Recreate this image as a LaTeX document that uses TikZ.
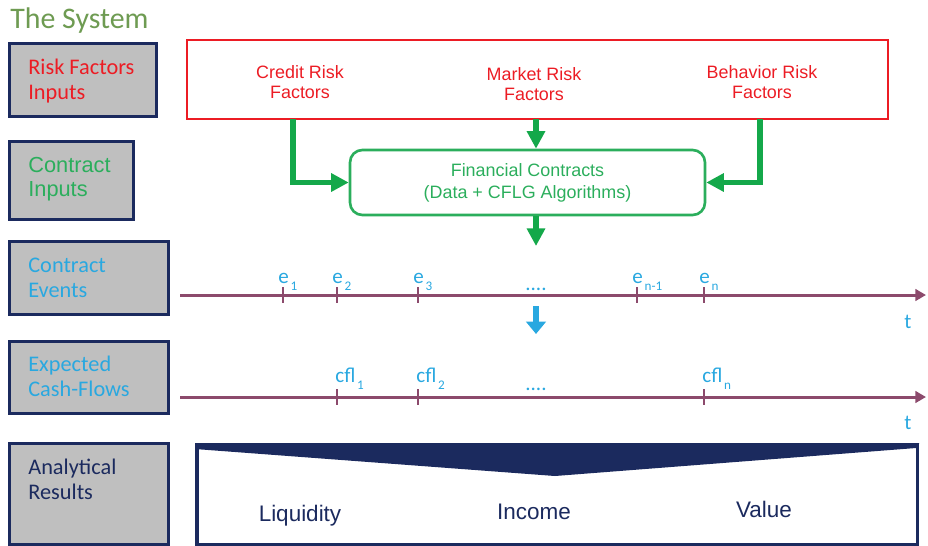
\documentclass[tikz,border=0pt]{standalone}
\usepackage{fontspec}
\setmainfont{Carlito}
\newfontfamily\arialfont{Liberation Sans}
\usetikzlibrary{arrows.meta,positioning}
\definecolor{sysNavy}{HTML}{1B2A5E}
\definecolor{sysGray}{HTML}{BFBFBF}
\definecolor{sysRed}{HTML}{EC1C24}
\definecolor{sysGreen}{HTML}{14A84A}
\definecolor{sysLeaf}{HTML}{2BAE5C}
\definecolor{sysSky}{HTML}{29A8E0}
\definecolor{sysPlum}{HTML}{8C4A6C}
\definecolor{sysOlive}{HTML}{6E9B52}
\tikzset{
 sysdiag/.style={x=0.02cm,y=-0.02cm,line join=miter},
 sidebox/.style={draw=sysNavy,fill=sysGray,line width=1.9pt,anchor=north west,inner sep=0pt},
 sidetext/.style={font=\fontsize{12.7}{14.2}\selectfont,align=left,anchor=north west,inner sep=0pt},
 riskbox/.style={draw=sysRed,line width=1.5pt,inner sep=0pt,minimum width=14.02cm,minimum height=1.58cm},
 risktext/.style={font=\arialfont\fontsize{10.2}{11.3}\selectfont,text=sysRed,align=center,anchor=north,inner sep=0pt},
 contractbox/.style={draw=sysLeaf,line width=1.5pt,rounded corners=7pt,minimum width=7.1cm,minimum height=1.3cm,
   text=sysLeaf,font=\arialfont\fontsize{10.2}{12.4}\selectfont,align=center},
 feed/.style={draw=sysGreen,line width=3.4pt,-{Triangle[length=10pt,width=10pt]}},
 derive/.style={draw=sysSky,line width=3.4pt,-{Triangle[length=7pt,width=11pt]}},
 timeline/.style={draw=sysPlum,line width=1.7pt,-{Triangle[length=6pt,width=6.5pt]}},
 evtick/.style={draw=sysPlum,line width=1.2pt},
 evlabel/.style={font=\fontsize{12}{14}\selectfont,text=sysSky,anchor=base west,inner sep=0pt},
 resultbox/.style={draw=sysNavy,line width=2pt,anchor=north west,inner sep=0pt,minimum width=14.42cm,minimum height=2cm},
 resulttext/.style={font=\arialfont\fontsize{12.8}{14}\selectfont,text=sysNavy,anchor=base,inner sep=0pt}
}
\newcommand{\tickLab}[2]{#1\kern1pt\raisebox{-4.5pt}{\fontsize{7.5}{8}\selectfont#2}}

\begin{document}
\begin{tikzpicture}[sysdiag]
 \useasboundingbox (0,0) rectangle (928,545);
 \node[font=\fontsize{17}{20}\selectfont,text=sysOlive,anchor=base west,inner sep=0pt] (title) at (10,28) {The System};
 % row labels on the left
 \node[sidebox,minimum width=2.94cm,minimum height=1.46cm] (sRisk) at (8,42) {};
 \node[sidebox,minimum width=2.48cm,minimum height=1.56cm] (sContract) at (8,140) {};
 \node[sidebox,minimum width=3.18cm,minimum height=1.46cm] (sEvents) at (8,240) {};
 \node[sidebox,minimum width=3.18cm,minimum height=1.44cm] (sFlows) at (8,340) {};
 \node[sidebox,minimum width=3.18cm,minimum height=2.02cm] (sResults) at (8,442) {};
 \node[sidetext,text=sysRed] (tRisk) at (28,59) {Risk Factors\\Inputs};
 \node[sidetext,text=sysLeaf,font=\arialfont\fontsize{12.4}{13.6}\selectfont] (tContract) at (28,157) {Contract\\Inputs};
 \node[sidetext,text=sysSky] (tEvents) at (28,258) {Contract\\Events};
 \node[sidetext,text=sysSky] (tFlows) at (28,356) {Expected\\Cash-Flows};
 \node[sidetext,text=sysNavy] (tResults) at (28,459) {Analytical\\Results};
 % risk factors and contracts
 \node[riskbox] (rf) at (537.5,79.5) {};
 \node[risktext] (credit) at (300,65) {Credit Risk\\Factors};
 \node[risktext] (market) at (534,67) {Market Risk\\Factors};
 \node[risktext] (behav) at (762,65) {Behavior Risk\\Factors};
 \node[contractbox] (fc) at (527.5,182.5) {Financial Contracts\\(Data + CFLG Algorithms)};
 \coordinate (cIn) at (293,119);
 \coordinate (mIn) at (536,119);
 \coordinate (bIn) at (760,119);
 \coordinate (fcOut) at (536,246);
 \draw[feed] (cIn) |- (fc.west);
 \draw[feed] (bIn) |- (fc.east);
 \draw[feed] (mIn) -- (mIn |- fc.north);
 \draw[feed] (fcOut |- fc.south) -- (fcOut);
 % contract events
 \coordinate (evStart) at (180,295); \coordinate (evEnd) at (926,295);
 \draw[timeline] (evStart) -- (evEnd);
 \foreach \xx/\ss [count=\i] in {283/1,337/2,418/3,637/n-1,704/n}{
   \draw[evtick] (\xx,287) -- (\xx,303);
   \node[evlabel] (ev\i) at (\xx-5,283) {\tickLab{e}{\ss}};
 }
 \node[evlabel,anchor=base] (dotsA) at (536,290) {....};
 \node[evlabel,anchor=base] (tA) at (908,328) {t};
 \coordinate (dTop) at (536,306); \coordinate (dBot) at (536,334);
 \draw[derive] (dTop) -- (dBot);
 % expected cash flows
 \coordinate (cfStart) at (180,397); \coordinate (cfEnd) at (926,397);
 \draw[timeline] (cfStart) -- (cfEnd);
 \foreach \xx/\ss [count=\i] in {337/1,418/2,704/n}{
   \draw[evtick] (\xx,389) -- (\xx,405);
   \node[evlabel] (cf\i) at (\xx-2,382) {\tickLab{cfl}{\ss}};
 }
 \node[evlabel,anchor=base] (dotsB) at (536,390) {....};
 \node[evlabel,anchor=base] (tB) at (908,429) {t};
 % analytical results
 \node[resultbox] (res) at (195,443) {};
 \fill[sysNavy] (res.north west) -- (res.north east) -- (916,448) -- (555,476) -- (195,449) -- cycle;
 \node[resulttext] (liq) at (300,521) {Liquidity};
 \node[resulttext] (inc) at (534,519) {Income};
 \node[resulttext] (val) at (764,517) {Value};
\end{tikzpicture}
\end{document}
